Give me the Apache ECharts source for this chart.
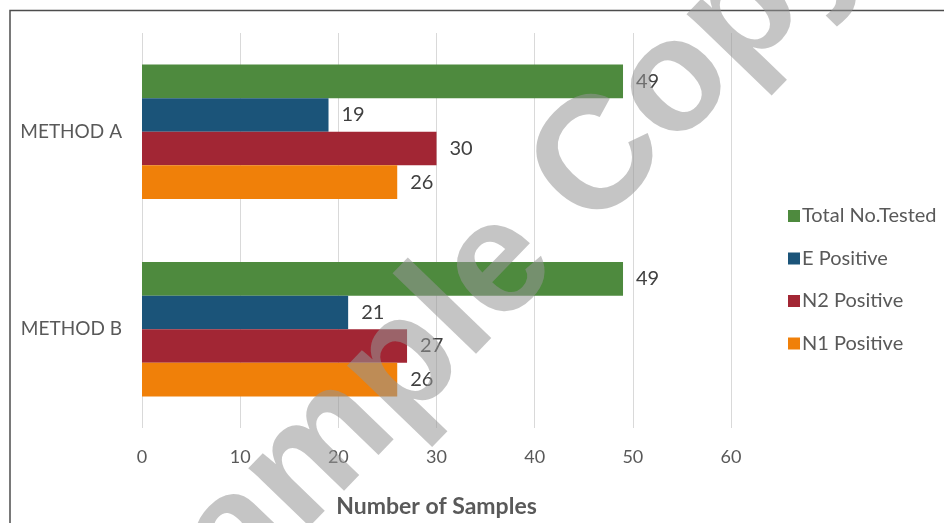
<!DOCTYPE html>
<html>
<head>
<meta charset="utf-8">
<script src="https://cdn.jsdelivr.net/npm/echarts@6/dist/echarts.min.js"></script>
<style>
html,body{margin:0;padding:0;background:#fff;}
#chart{width:944px;height:523px;}
</style>
</head>
<body>
<div id="chart"></div>
<script>
const categories = ['METHOD A', 'METHOD B'];
const totalTested = [49, 49];
const ePositive = [19, 21];
const n2Positive = [30, 27];
const n1Positive = [26, 26];
const seriesNames = ['Total No.Tested', 'E Positive', 'N2 Positive', 'N1 Positive'];
const xTicks = [0, 10, 20, 30, 40, 50, 60];

const colors = ['#4e8a3e', '#1b5479', '#a22634', '#f08009'];
const FONT = 'Lato, "Open Sans", sans-serif';

const chart = echarts.init(document.getElementById('chart'));
const values = [totalTested, ePositive, n2Positive, n1Positive];

chart.setOption({
  animation: false,
  grid: { left: 142, right: 213, top: 33, bottom: 83 },
  legend: {
    orient: 'vertical',
    left: 783,
    top: 201,
    itemWidth: 12,
    itemHeight: 12,
    itemGap: 22.5,
    icon: 'rect',
    data: seriesNames,
    textStyle: { color: '#595959', fontSize: 20, fontFamily: FONT, padding: [0, 0, 0, -3] }
  },
  xAxis: {
    type: 'value',
    min: xTicks[0],
    max: xTicks[xTicks.length - 1],
    interval: 10,
    name: 'Number of Samples',
    nameLocation: 'middle',
    nameGap: 67,
    nameTextStyle: { color: '#595959', fontSize: 23, fontWeight: 'bold', fontFamily: FONT },
    axisLine: { show: false },
    axisTick: { show: false },
    axisLabel: { color: '#595959', fontSize: 18, margin: 20, fontFamily: FONT },
    splitLine: { show: true, lineStyle: { color: '#d9d9d9', width: 1 } }
  },
  yAxis: {
    type: 'category',
    data: categories,
    inverse: true,
    axisLine: { show: false },
    axisTick: { show: false },
    axisLabel: { color: '#595959', fontSize: 19, margin: 20, fontFamily: FONT }
  },
  series: seriesNames.map((name, i) => ({
    name: name,
    type: 'bar',
    data: values[i],
    barGap: '0%',
    barCategoryGap: '32%',
    itemStyle: { color: colors[i] },
    label: {
      show: true,
      position: 'right',
      distance: 13,
      color: '#404040',
      fontSize: 20,
      fontFamily: FONT
    }
  })),
  graphic: [
    {
      type: 'polyline',
      shape: { points: [[10, 530], [10, 10.5], [950, 10.5]] },
      style: { stroke: '#4d4d4d', lineWidth: 1.5, fill: null },
      z: 100
    },
    {
      type: 'text',
      x: 486,
      y: 280,
      rotation: 46 * Math.PI / 180,
      style: {
        text: 'Sample Copy',
        font: 'bold 160px "Liberation Sans", Arial, sans-serif',
        fill: 'rgba(150,150,150,0.55)',
        textAlign: 'center',
        textVerticalAlign: 'middle'
      },
      z: 200,
      silent: true
    }
  ]
});
</script>
</body>
</html>
